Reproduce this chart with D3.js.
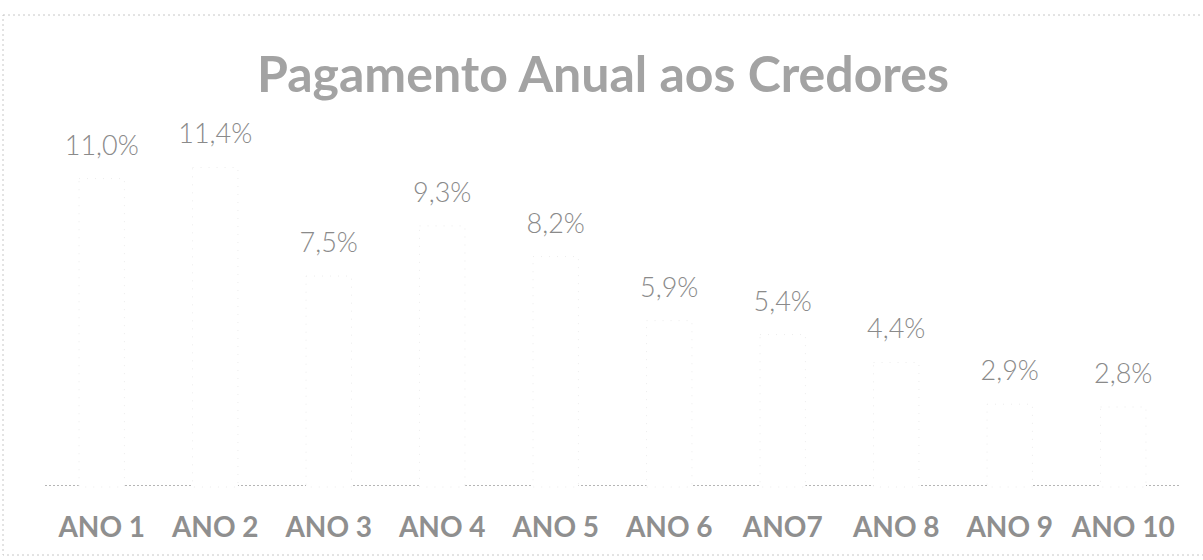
<!DOCTYPE html>
<html>
<head>
<meta charset="utf-8">
<script src="https://cdn.jsdelivr.net/npm/d3@7"></script>
<style>
  html, body { margin: 0; padding: 0; background: #ffffff; }
  svg { display: block; }
</style>
</head>
<body>
<svg id="chart" width="1203" height="560"></svg>
<script>
const title = "Pagamento Anual aos Credores";
const categories = ["ANO 1", "ANO 2", "ANO 3", "ANO 4", "ANO 5", "ANO 6", "ANO7", "ANO 8", "ANO 9", "ANO 10"];
const values = [11.0, 11.4, 7.5, 9.3, 8.2, 5.9, 5.4, 4.4, 2.9, 2.8];
const yDomain = [0, 14];

const svg = d3.select("#chart");
const W = 1203, H = 560;
const plot = { left: 45, right: 1180, top: 95, bottom: 485 };

// outer chart border (faint, dotted as in the scan)
svg.append("rect")
  .attr("x", 3).attr("y", 15)
  .attr("width", W + 20).attr("height", 540)
  .attr("fill", "none")
  .attr("stroke", "#c8c8c8")
  .attr("stroke-width", 1)
  .attr("stroke-dasharray", "2 3");

// title
svg.append("text")
  .attr("x", 603).attr("y", 92)
  .attr("text-anchor", "middle")
  .attr("font-family", "Lato, 'Open Sans', sans-serif")
  .attr("font-weight", 700)
  .attr("font-size", 50)
  .attr("fill", "#a3a3a3")
  .text(title);

const x = d3.scaleBand()
  .domain(categories)
  .range([plot.left, plot.right])
  .paddingInner(0.6)
  .paddingOuter(0.3);

const y = d3.scaleLinear()
  .domain(yDomain)
  .range([plot.bottom, plot.top]);

// baseline axis
const xAxis = svg.append("g")
  .attr("transform", `translate(0,${plot.bottom})`)
  .call(d3.axisBottom(x).tickSize(0).tickPadding(0));
xAxis.select(".domain")
  .attr("stroke", "#b5b5b5")
  .attr("stroke-dasharray", "2 2")
  .attr("d", `M${plot.left},0.5H${plot.right}`);
xAxis.selectAll(".tick text")
  .attr("y", 52)
  .attr("dy", 0)
  .attr("font-family", "Lato, 'Open Sans', sans-serif")
  .attr("font-weight", 700)
  .attr("font-size", 28)
  .attr("fill", "#8f8f8f");

// bars (nearly invisible in the faded scan)
svg.append("g").selectAll("rect")
  .data(values)
  .join("rect")
  .attr("x", (d, i) => x(categories[i]))
  .attr("width", x.bandwidth())
  .attr("y", d => y(d))
  .attr("height", d => y(0) - y(d) + 2)
  .attr("fill", "#ffffff")
  .attr("stroke", "#ececec")
  .attr("stroke-width", 1)
  .attr("stroke-dasharray", "1 7");

// value labels
svg.append("g").selectAll("text")
  .data(values)
  .join("text")
  .attr("x", (d, i) => x(categories[i]) + x.bandwidth() / 2)
  .attr("y", d => y(d) - 24)
  .attr("text-anchor", "middle")
  .attr("font-family", "Lato, 'Open Sans', sans-serif")
  .attr("font-weight", 300)
  .attr("font-size", 27)
  .attr("fill", "#8a8a8a")
  .text(d => d.toFixed(1).replace(".", ",") + "%");
</script>
</body>
</html>
